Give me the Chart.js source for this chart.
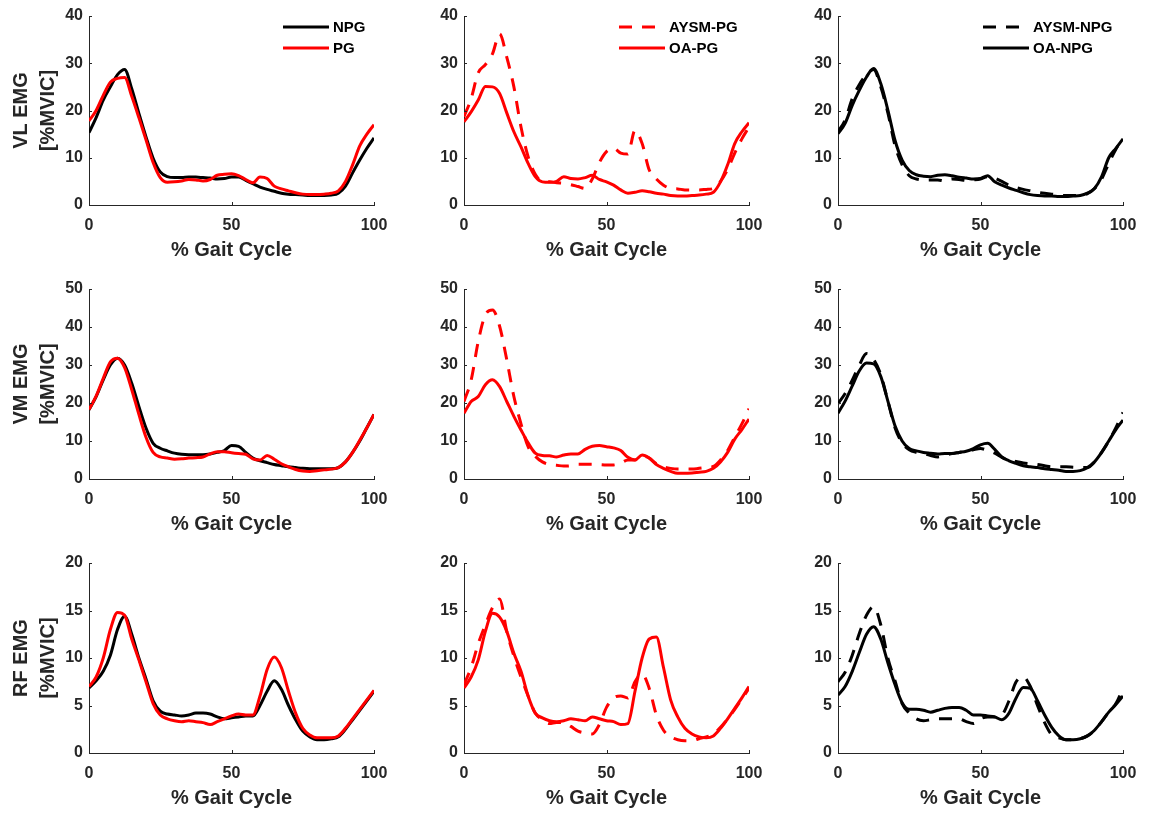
<!DOCTYPE html>
<html>
<head>
<meta charset="utf-8">
<script src="https://cdn.jsdelivr.net/npm/chart.js@4.4.1/dist/chart.umd.min.js"></script>
<style>
  html, body { margin: 0; padding: 0; background: #fff; }
  #grid { position: relative; width: 1150px; height: 813px; overflow: hidden; }
  #grid canvas { position: absolute; }
</style>
</head>
<body>
<div id="grid"></div>
<script>
// % of gait cycle, shared by every curve
const gaitCycle = [0, 2.5, 5, 7.5, 10, 12.5, 15, 17.5, 20, 22.5, 25, 27.5, 30, 32.5, 35, 37.5, 40, 42.5, 45, 47.5,
  50, 52.5, 55, 57.5, 60, 62.5, 65, 67.5, 70, 72.5, 75, 77.5, 80, 82.5, 85, 87.5, 90, 92.5, 95, 97.5, 100];

// Vastus lateralis
const vlNpg = [15.3, 18.5, 22.2, 25.0, 27.6, 28.7, 24.6, 19.4, 14.4, 9.9, 7.0, 6.0, 5.8, 5.8, 5.9, 5.9, 5.8, 5.7, 5.5, 5.6,
  5.9, 5.9, 5.2, 4.5, 3.8, 3.3, 2.9, 2.5, 2.3, 2.2, 2.1, 2.0, 2.0, 2.0, 2.1, 2.5, 4.0, 6.8, 9.5, 12.0, 14.2];
const vlPg = [17.8, 20.0, 23.2, 26.0, 26.8, 27.0, 23.0, 18.5, 13.8, 9.0, 5.8, 4.8, 4.9, 5.1, 5.4, 5.3, 5.1, 5.4, 6.3, 6.5,
  6.6, 6.2, 5.4, 4.7, 5.9, 5.6, 4.0, 3.4, 3.0, 2.6, 2.3, 2.2, 2.2, 2.3, 2.5, 3.0, 5.0, 8.5, 12.5, 15.0, 17.0];
const vlAysmPg = [18.7, 22.5, 28.0, 29.7, 32.0, 36.2, 31.3, 25.0, 16.5, 10.2, 6.5, 5.0, 4.9, 4.7, 4.6, 4.3, 3.9, 3.5, 5.5, 9.0,
  11.3, 12.0, 11.0, 10.8, 15.8, 13.0, 7.4, 5.5, 4.2, 3.5, 3.4, 3.2, 3.2, 3.2, 3.3, 3.5, 5.0, 7.5, 11.0, 14.0, 16.5];
const vlOaPg = [17.6, 19.7, 22.2, 25.1, 25.0, 23.6, 19.5, 15.5, 12.3, 8.8, 6.0, 4.9, 4.8, 5.0, 6.0, 5.6, 5.5, 5.8, 6.3, 5.4,
  4.9, 4.2, 3.2, 2.5, 2.7, 3.0, 2.8, 2.5, 2.3, 2.0, 1.9, 1.9, 2.0, 2.1, 2.3, 2.7, 4.9, 8.5, 13.0, 15.5, 17.4];
const vlAysmNpg = [15.5, 18.0, 22.5, 25.5, 27.6, 28.7, 25.0, 19.5, 12.6, 8.5, 6.2, 5.5, 5.3, 5.3, 5.3, 5.1, 5.5, 5.4, 5.2, 5.3,
  5.5, 6.0, 5.7, 5.0, 4.2, 3.7, 3.3, 3.0, 2.7, 2.5, 2.3, 2.1, 2.0, 2.0, 2.0, 2.4, 3.5, 5.5, 8.8, 11.8, 14.2];
const vlOaNpg = [15.1, 17.3, 21.1, 24.3, 27.1, 28.9, 25.7, 20.1, 13.7, 9.5, 7.3, 6.4, 6.1, 6.0, 6.3, 6.4, 6.2, 5.9, 5.7, 5.5,
  5.6, 6.2, 4.9, 4.2, 3.6, 3.1, 2.6, 2.2, 2.0, 1.9, 1.9, 1.8, 1.8, 1.9, 2.0, 2.5, 3.5, 6.0, 10.0, 12.0, 14.0];

// Vastus medialis
const vmNpg = [18.2, 21.7, 26.1, 30.0, 31.8, 30.0, 25.2, 19.1, 13.4, 9.4, 8.1, 7.4, 6.8, 6.5, 6.4, 6.4, 6.4, 6.6, 7.0, 7.5,
  8.8, 8.6, 7.0, 5.5, 4.8, 4.3, 3.8, 3.5, 3.2, 3.0, 2.8, 2.7, 2.7, 2.7, 2.7, 3.0, 4.5, 7.0, 10.0, 13.5, 17.0];
const vmPg = [18.3, 21.8, 26.5, 30.8, 31.8, 29.3, 23.5, 17.0, 11.0, 7.0, 5.8, 5.5, 5.2, 5.3, 5.5, 5.6, 5.8, 6.6, 7.2, 7.2,
  6.9, 6.7, 6.5, 5.3, 5.0, 6.2, 5.2, 4.0, 3.2, 2.5, 2.1, 2.0, 2.2, 2.4, 2.6, 3.0, 4.5, 7.0, 10.2, 13.5, 17.0];
const vmAysmPg = [20.4, 26.0, 36.2, 43.2, 44.5, 40.2, 31.4, 21.7, 14.5, 8.5, 6.0, 4.5, 3.8, 3.6, 3.4, 3.5, 3.9, 3.9, 3.9, 3.8,
  3.7, 3.7, 4.2, 5.0, 5.0, 6.0, 5.5, 4.0, 3.2, 2.8, 2.6, 2.6, 2.6, 2.8, 3.0, 3.3, 5.0, 7.5, 11.0, 14.5, 18.5];
const vmOaPg = [17.3, 20.4, 21.7, 24.8, 26.1, 24.3, 20.4, 16.5, 12.9, 9.5, 6.8, 6.2, 6.1, 5.8, 6.3, 6.6, 6.6, 7.8, 8.6, 8.8,
  8.5, 8.2, 7.5, 5.7, 5.0, 6.3, 5.5, 3.8, 2.8, 2.0, 1.5, 1.5, 1.6, 1.8, 2.0, 2.8, 4.5, 7.0, 10.5, 13.0, 15.8];
const vmAysmNpg = [19.8, 22.5, 26.0, 30.0, 33.0, 31.5, 27.5, 20.5, 13.5, 9.5, 7.7, 7.0, 6.7, 6.2, 5.8, 6.2, 6.7, 7.0, 7.3, 7.7,
  8.0, 7.5, 6.8, 5.7, 5.0, 4.6, 4.2, 4.0, 3.8, 3.5, 3.2, 3.2, 3.2, 3.1, 3.0, 3.0, 4.5, 7.0, 10.0, 13.5, 17.5];
const vmOaNpg = [17.3, 20.5, 24.5, 28.5, 30.5, 30.3, 27.0, 20.5, 14.0, 10.0, 8.0, 7.4, 7.0, 6.8, 6.6, 6.7, 6.7, 7.0, 7.3, 8.0,
  9.0, 9.4, 7.8, 5.8, 4.8, 4.1, 3.5, 3.2, 3.0, 2.7, 2.5, 2.3, 2.0, 2.0, 2.2, 3.0, 4.5, 7.0, 10.0, 13.0, 15.5];

// Rectus femoris
const rfNpg = [6.85, 7.6, 8.6, 10.3, 13.0, 14.4, 12.5, 10.0, 7.8, 5.5, 4.4, 4.1, 4.0, 3.9, 4.0, 4.2, 4.2, 4.1, 3.8, 3.6,
  3.7, 3.8, 3.9, 3.9, 5.0, 6.5, 7.6, 6.7, 5.0, 3.5, 2.3, 1.7, 1.4, 1.4, 1.5, 1.7, 2.5, 3.5, 4.5, 5.5, 6.5];
const rfPg = [7.0, 8.0, 10.0, 13.0, 14.8, 14.5, 12.0, 9.8, 7.5, 5.2, 4.0, 3.6, 3.4, 3.3, 3.4, 3.3, 3.2, 3.0, 3.3, 3.6,
  3.9, 4.1, 4.0, 4.0, 6.0, 8.8, 10.1, 9.0, 6.5, 4.2, 2.6, 1.9, 1.6, 1.6, 1.6, 1.8, 2.6, 3.6, 4.6, 5.6, 6.6];
const rfAysmPg = [7.2, 9.0, 11.5, 13.5, 15.3, 16.2, 12.8, 10.2, 8.0, 6.0, 4.2, 3.5, 3.1, 3.2, 3.2, 2.8, 2.3, 2.1, 2.0, 3.0,
  4.8, 5.8, 6.0, 5.8, 7.5, 8.3, 6.8, 4.0, 2.4, 1.7, 1.4, 1.3, 1.3, 1.5, 1.7, 2.0, 2.7, 3.6, 4.6, 5.7, 6.8];
const rfOaPg = [6.85, 8.0, 9.8, 12.8, 14.7, 14.3, 12.8, 10.5, 8.6, 6.0, 4.2, 3.7, 3.4, 3.3, 3.4, 3.6, 3.5, 3.4, 3.8, 3.6,
  3.4, 3.3, 3.0, 3.1, 6.5, 10.0, 12.0, 12.2, 9.0, 5.6, 3.8, 2.6, 2.0, 1.7, 1.6, 1.8, 2.6, 3.6, 4.7, 5.8, 7.0];
const rfAysmNpg = [7.5, 8.5, 10.3, 12.6, 14.5, 15.4, 13.5, 10.0, 7.6, 5.2, 4.2, 3.6, 3.4, 3.5, 3.6, 3.6, 3.6, 3.6, 3.3, 3.1,
  3.6, 3.8, 3.8, 4.0, 5.5, 7.5, 8.0, 7.0, 5.0, 3.2, 1.9, 1.6, 1.4, 1.4, 1.5, 1.8, 2.4, 3.3, 4.3, 5.2, 6.8];
const rfOaNpg = [6.1, 7.0, 8.6, 10.6, 12.5, 13.3, 12.0, 9.5, 7.2, 5.3, 4.6, 4.6, 4.5, 4.3, 4.5, 4.7, 4.8, 4.8, 4.5, 4.0,
  4.0, 3.9, 3.8, 3.5, 4.2, 5.8, 6.9, 6.8, 5.5, 4.0, 2.7, 1.8, 1.4, 1.4, 1.5, 1.8, 2.4, 3.3, 4.3, 5.1, 6.0];

// y axis limits per muscle
const muscles = ['VL', 'VM', 'RF'];
const yMaxes = [40, 50, 20];
const ySteps = [10, 10, 5];

const RED = '#ff0000';
const BLACK = '#000000';
const AXIS = '#262626';
const FONT = '"Liberation Sans", Arial, Helvetica, sans-serif';

// geometry of the grid of plots
const colLeft = [89, 464, 838];
const rowTop = [16, 289, 563];
const rowH = [189, 190, 190];
const PLOT_W = 285, AXIS_W = 89, PAD_T = 16, PAD_R = 30, X_AXIS_H = 60;

function series(label, values, color, dashed, order) {
  return {
    label,
    data: values.map((v, i) => ({ x: gaitCycle[i], y: v })),
    borderColor: color,
    borderWidth: 3,
    borderDash: dashed ? [13, 10] : [],
    pointRadius: 0,
    cubicInterpolationMode: 'monotone',
    fill: false,
    order
  };
}

const rows = [
  [
    [series('NPG', vlNpg, BLACK, false, 2), series('PG', vlPg, RED, false, 1)],
    [series('AYSM-PG', vlAysmPg, RED, true, 2), series('OA-PG', vlOaPg, RED, false, 1)],
    [series('AYSM-NPG', vlAysmNpg, BLACK, true, 2), series('OA-NPG', vlOaNpg, BLACK, false, 1)]
  ],
  [
    [series('NPG', vmNpg, BLACK, false, 2), series('PG', vmPg, RED, false, 1)],
    [series('AYSM-PG', vmAysmPg, RED, true, 2), series('OA-PG', vmOaPg, RED, false, 1)],
    [series('AYSM-NPG', vmAysmNpg, BLACK, true, 2), series('OA-NPG', vmOaNpg, BLACK, false, 1)]
  ],
  [
    [series('NPG', rfNpg, BLACK, false, 2), series('PG', rfPg, RED, false, 1)],
    [series('AYSM-PG', rfAysmPg, RED, true, 2), series('OA-PG', rfOaPg, RED, false, 1)],
    [series('AYSM-NPG', rfAysmNpg, BLACK, true, 2), series('OA-NPG', rfOaNpg, BLACK, false, 1)]
  ]
];

// where the key sits, measured from the left of each column's plot
const keyOffset = [194, 155, 145];

// legend drawn inside the plot, top right, line sample + label
const lineKey = {
  id: 'lineKey',
  afterDatasetsDraw(chart, args, opts) {
    if (!opts.show) return;
    const { ctx, chartArea } = chart;
    ctx.save();
    ctx.font = 'bold 15px ' + FONT;
    ctx.textBaseline = 'middle';
    ctx.textAlign = 'left';
    chart.data.datasets.forEach((ds, i) => {
      const y = chartArea.top + 11 + i * 21;
      const x0 = chartArea.left + opts.offset;
      ctx.strokeStyle = ds.borderColor;
      ctx.lineWidth = ds.borderWidth;
      ctx.setLineDash(ds.borderDash);
      ctx.beginPath();
      ctx.moveTo(x0, y);
      ctx.lineTo(x0 + 46, y);
      ctx.stroke();
      ctx.setLineDash([]);
      ctx.fillStyle = '#000';
      ctx.fillText(ds.label, x0 + 50, y + 1);
    });
    ctx.restore();
  }
};

// short tick marks pointing into the plot
const innerTicks = {
  id: 'innerTicks',
  afterDraw(chart) {
    const { ctx, scales: { x, y } } = chart;
    ctx.save();
    ctx.strokeStyle = AXIS;
    ctx.lineWidth = 1;
    ctx.beginPath();
    x.ticks.forEach(t => {
      const px = Math.round(x.getPixelForValue(t.value)) + 0.5;
      ctx.moveTo(px, x.top);
      ctx.lineTo(px, x.top - 3);
    });
    y.ticks.forEach(t => {
      const py = Math.round(y.getPixelForValue(t.value)) + 0.5;
      ctx.moveTo(y.right, py);
      ctx.lineTo(y.right + 3, py);
    });
    ctx.stroke();
    ctx.restore();
  }
};

const grid = document.getElementById('grid');

rows.forEach((panels, r) => {
  panels.forEach((datasets, c) => {
    const canvas = document.createElement('canvas');
    const w = AXIS_W + PLOT_W + PAD_R;
    const h = PAD_T + rowH[r] + X_AXIS_H;
    canvas.width = w;
    canvas.height = h;
    canvas.style.left = (colLeft[c] - AXIS_W) + 'px';
    canvas.style.top = (rowTop[r] - PAD_T) + 'px';
    canvas.style.width = w + 'px';
    canvas.style.height = h + 'px';
    grid.appendChild(canvas);

    new Chart(canvas.getContext('2d'), {
      type: 'line',
      data: { datasets },
      options: {
        responsive: false,
        animation: false,
        devicePixelRatio: 1,
        layout: { padding: { top: PAD_T, right: PAD_R, left: 0, bottom: 0 } },
        plugins: {
          legend: { display: false },
          tooltip: { enabled: false },
          lineKey: r === 0 ? { show: true, offset: keyOffset[c] } : { show: false }
        },
        scales: {
          x: {
            type: 'linear',
            min: 0,
            max: 100,
            ticks: { stepSize: 50, padding: 11, color: AXIS, font: { family: FONT, size: 16, weight: 'bold' } },
            grid: { display: false, drawTicks: false },
            border: { display: true, color: AXIS, width: 1 },
            title: {
              display: true,
              text: '% Gait Cycle',
              color: AXIS,
              font: { family: FONT, size: 20, weight: 'bold', lineHeight: 1.2 },
              padding: { top: 0, bottom: 3 }
            },
            afterFit(scale) { scale.height = X_AXIS_H; }
          },
          y: {
            min: 0,
            max: yMaxes[r],
            ticks: { stepSize: ySteps[r], padding: 6, color: AXIS, font: { family: FONT, size: 16, weight: 'bold' } },
            grid: { display: false, drawTicks: false },
            border: { display: true, color: AXIS, width: 1 },
            title: {
              display: c === 0,
              text: [muscles[r] + ' EMG', '[%MVIC]'],
              color: AXIS,
              font: { family: FONT, size: 20, weight: 'bold', lineHeight: 1.35 },
              padding: { top: 7.5, bottom: 0 }
            },
            afterFit(scale) { scale.width = AXIS_W; }
          }
        }
      },
      plugins: [lineKey, innerTicks]
    });
  });
});
</script>
</body>
</html>
